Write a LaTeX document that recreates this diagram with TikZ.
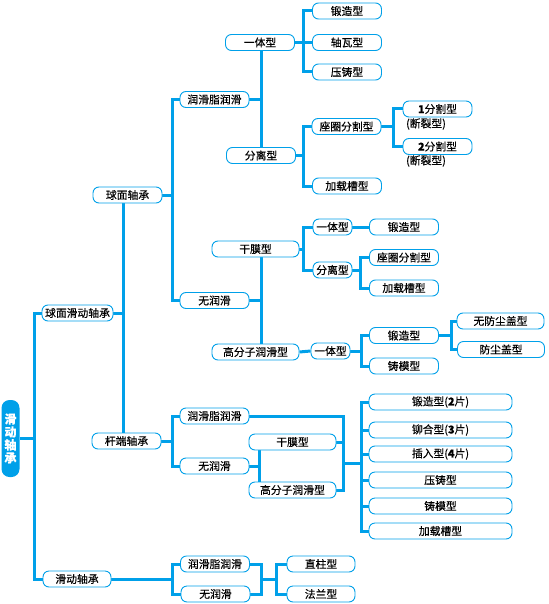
\documentclass[tikz,border=0pt]{standalone}
\usepackage{fontspec}
\setmainfont{Noto Sans CJK SC}[FakeBold=0.35]
\usetikzlibrary{calc}
\definecolor{lineblue}{RGB}{0,160,233}
\pgfdeclarelayer{background}
\pgfsetlayers{background,main}
\begin{document}
\begin{tikzpicture}[x=1pt,y=-1pt,
  box/.style={draw=lineblue, line width=0.9pt, fill=white, rounded corners=6pt,
    minimum height=16pt, inner sep=0pt, text=black, font=\fontsize{10.8}{12}\selectfont},
  wa/.style={box, minimum width=69pt},
  wb/.style={box, minimum width=87pt},
  wc/.style={box, minimum width=39pt},
  wd/.style={box, minimum width=143pt},
  note/.style={inner sep=0pt, text=black, font=\fontsize{10.8}{12}\selectfont},
  rootbox/.style={fill=lineblue, draw=none, rounded corners=8pt, minimum width=18pt,
    minimum height=77pt, inner sep=0pt, text=white, align=center,
    font=\fontsize{12}{13}\selectfont\bfseries},
  conn/.style={draw=lineblue, line width=3pt}]
\useasboundingbox (0,0) rectangle (548,604);

% nodes
\node[rootbox] (root) at (10.5,438.5) {滑\\动\\轴\\承};
\node[box, minimum width=71pt] (qmhd) at (77.5,313) {球面滑动轴承};
\node[box, minimum width=68pt] (hdzc) at (77,579) {滑动轴承};
\node[wa] (qmzc) at (127.5,195) {球面轴承};
\node[wa] (gdzc) at (126.5,441) {杆端轴承};
\node[wa] (a1) at (214.5,99.5) {润滑脂润滑};
\node[wa] (a2) at (214.5,300.5) {无润滑};
\node[wa] (b1) at (260,42.5) {一体型};
\node[wa] (b2) at (261,155.5) {分离型};
\node[wa] (c1) at (347,11) {锻造型};
\node[wa] (c2) at (347,42.5) {轴瓦型};
\node[wa] (c3) at (347,72) {压铸型};
\node[wa] (c4) at (346.5,126.5) {座圈分割型};
\node[wa] (c5) at (347,186) {加载槽型};
\node[wa] (d1) at (437.5,109) {\textbf{1}分割型};
\node[wa] (d2) at (437.5,146.5) {\textbf{2}分割型};
\node[note] (d1n) at (426,124) {(断裂型)};
\node[note] (d2n) at (426,161) {(断裂型)};
\node[wb] (e1) at (255.5,249) {干膜型};
\node[wb] (e2) at (255.5,352) {高分子润滑型};
\node[wc] (f1) at (332.5,227) {一体型};
\node[wc] (f2) at (332.5,270) {分离型};
\node[wa] (g1) at (404,227) {锻造型};
\node[wa] (g2) at (404,257.5) {座圈分割型};
\node[wa] (g3) at (404,288) {加载槽型};
\node[wc] (f3) at (330.5,351) {一体型};
\node[wa] (g4) at (404,335.5) {锻造型};
\node[wa] (g5) at (404,366) {铸模型};
\node[wb] (h1) at (500.5,321) {无防尘盖型};
\node[wb] (h2) at (501,349.5) {防尘盖型};
\node[wa] (i1) at (214.5,416) {润滑脂润滑};
\node[wa] (i2) at (214.5,466) {无润滑};
\node[wb] (k1) at (292.5,442) {干膜型};
\node[wb] (k2) at (292.5,490) {高分子润滑型};
\node[wd] (m1) at (440.5,402) {锻造型(\textbf{2}片)};
\node[wd] (m2) at (440.5,430) {铆合型(\textbf{3}片)};
\node[wd] (m3) at (440.5,454) {插入型(\textbf{4}片)};
\node[wd] (m4) at (440.5,480) {压铸型};
\node[wd] (m5) at (440.5,506) {铸模型};
\node[wd] (m6) at (440.5,531) {加载槽型};
\node[wa] (n1) at (215,564) {润滑脂润滑};
\node[wa] (n2) at (215.5,594) {无润滑};
\node[box, minimum width=68pt] (p1) at (321,564) {直柱型};
\node[box, minimum width=68pt] (p2) at (321,594) {法兰型};

% junctions
\coordinate (j0) at (34,438.5);
\coordinate (j1) at (123,313);
\coordinate (j2) at (172,195);
\coordinate (j3) at (261,99.5);
\coordinate (j4) at (303,42.5);
\coordinate (j5) at (303,155.5);
\coordinate (j6) at (393,126.5);
\coordinate (j7) at (261,300.5);
\coordinate (j8) at (303,249);
\coordinate (j9) at (360,270);
\coordinate (j10) at (361,351);
\coordinate (j11) at (451,335.5);
\coordinate (j12) at (172,441);
\coordinate (j13) at (259,466);
\coordinate (j14) at (343,463);
\coordinate (j15) at (361,463);
\coordinate (j16) at (172,579);
\coordinate (j17) at (261,579);
\coordinate (j18) at (276,579);

\begin{pgfonlayer}{background}
\draw[conn] (root.east) -- (j0);
\draw[conn] (qmhd.west) -| (j0) |- (hdzc.west);
\draw[conn] (qmhd.east) -- (j1);
\draw[conn] (qmzc.south -| j1) -- (gdzc.north -| j1);
\draw[conn] (qmzc.east) -- (j2);
\draw[conn] (a1.west) -| (j2) |- (a2.west);
\draw[conn] (a1.east) -- (j3);
\draw[conn] (b1.south -| j3) -- (b2.north -| j3);
\draw[conn] (b1.east) -- (j4);
\draw[conn] (c1.west) -| (j4) |- (c3.west);
\draw[conn] (j4) -- (c2.west);
\draw[conn] (b2.east) -- (j5);
\draw[conn] (c4.west) -| (j5) |- (c5.west);
\draw[conn] (c4.east) -- (j6);
\draw[conn] (d1.west) -| (j6) |- (d2.west);
\draw[conn] (a2.east) -- (j7);
\draw[conn] (e1.south -| j7) -- (e2.north -| j7);
\draw[conn] (e1.east) -- (j8);
\draw[conn] (f1.west) -| (j8) |- (f2.west);
\draw[conn] (f1.east) -- (g1.west);
\draw[conn] (f2.east) -- (j9);
\draw[conn] (g2.west) -| (j9) |- (g3.west);
\draw[conn] (e2.east) -- (f3.west);
\draw[conn] (f3.east) -- (j10);
\draw[conn] (g4.west) -| (j10) |- (g5.west);
\draw[conn] (g4.east) -- (j11);
\draw[conn] (h1.west) -| (j11) |- (h2.west);
\draw[conn] (gdzc.east) -- (j12);
\draw[conn] (i1.west) -| (j12) |- (i2.west);
\draw[conn] (i2.east) -- (j13);
\draw[conn] (k1.south -| j13) -- (k2.north -| j13);
\draw[conn] (i1.east) -| (j14) |- (k2.east);
\draw[conn] (k1.east) -- (k1.east -| j14);
\draw[conn] (j14) -- (j15);
\draw[conn] (m1.west) -| (j15) |- (m6.west);
\foreach \m in {m2,m3,m4,m5} { \draw[conn] (\m.west -| j15) -- (\m.west); }
\draw[conn] (hdzc.east) -- (j16);
\draw[conn] (n1.west) -| (j16) |- (n2.west);
\draw[conn] (n1.east) -| (j17) |- (n2.east);
\draw[conn] (j17) -- (j18);
\draw[conn] (p1.west) -| (j18) |- (p2.west);
\end{pgfonlayer}
\end{tikzpicture}
\end{document}
